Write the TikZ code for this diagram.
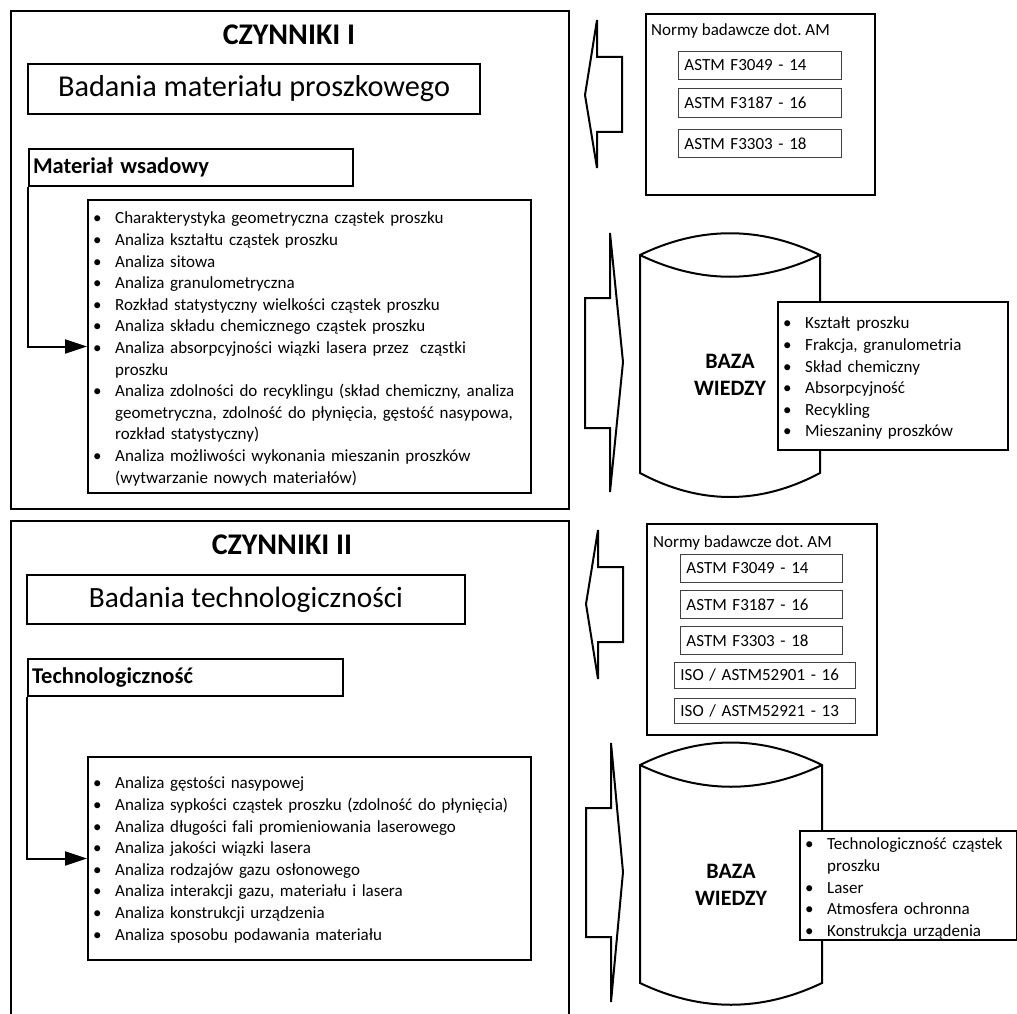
\documentclass[tikz,border=0pt]{standalone}
\usepackage{fontspec}
\setmainfont{Carlito}
\usetikzlibrary{arrows.meta}
\newcommand\bodyfont{\fontsize{17}{21.6}\selectfont\frenchspacing\hyphenpenalty=10000\exhyphenpenalty=10000\relax}
\newcommand\bigfont{\fontsize{30.3}{35}\selectfont}
\newcommand\bigfontb{\fontsize{29.4}{34}\selectfont}
\newcommand\subfont{\fontsize{22.5}{27}\selectfont\bfseries}
\newcommand\ttlfont{\fontsize{30}{36}\selectfont\bfseries}
\newcommand\bazafont{\fontsize{22}{26.5}\selectfont\bfseries}
\newcommand\li[1]{\par\hangindent=22pt\hangafter=1\noindent\strut\makebox[22pt][l]{\textbullet}#1}
\begin{document}
\begin{tikzpicture}[x=1pt,y=-1pt,
  frame/.style={draw, line width=2.2pt, inner sep=0pt, anchor=north west},
  hbox/.style={draw, line width=2pt, inner sep=0pt, anchor=north west},
  sbox/.style={draw=black!75, line width=0.9pt, anchor=north west, inner xsep=6pt, inner ysep=0pt, align=left, font=\bodyfont},
  lst/.style={anchor=north west, inner sep=0pt, align=left, font=\bodyfont},
  ttl/.style={inner sep=0pt, font=\ttlfont},
  baza/.style={inner sep=0pt, align=center, font=\bazafont},
  blk/.style={draw, line width=2pt, line join=miter, fill=white},
  cyl/.style={draw, line width=2pt, fill=white},
  conn/.style={draw, line width=2pt, -{Triangle[length=22pt,width=14pt]}}
]
\useasboundingbox (0,0) rectangle (1017,1014);
\clip (0,0) rectangle (1017,1014);

% ================= TOP =================
\node[frame, minimum width=558pt, minimum height=498pt] (top) at (10,10) {};
\node[ttl] (t1) at (289,35) {CZYNNIKI I};
\node[hbox, minimum width=452pt, minimum height=50pt, font=\bigfont] (bad1) at (27,63) {Badania materiału proszkowego};
\node[hbox, text width=316pt, inner xsep=4pt, minimum height=37pt, align=left, font=\subfont] (mat1) at (28,148) {Materiał wsadowy};
\node[hbox, minimum width=443pt, minimum height=293pt] (list1) at (87,199) {};
\node[lst, text width=480pt] (list1t) at (93,202) {%
\li{Charakterystyka geometryczna cząstek proszku}
\li{Analiza kształtu cząstek proszku}
\li{Analiza sitowa}
\li{Analiza granulometryczna}
\li{Rozkład statystyczny wielkości cząstek proszku}
\li{Analiza składu chemicznego cząstek proszku}
\li{Analiza absorpcyjności wiązki lasera przez\ \ cząstki\newline proszku}
\li{Analiza zdolności do recyklingu (skład chemiczny, analiza\newline geometryczna, zdolność do płynięcia, gęstość nasypowa,\newline rozkład statystyczny)}
\li{Analiza możliwości wykonania mieszanin proszków\newline (wytwarzanie nowych materiałów)}\par};
\draw[conn] (mat1.south west) |- (list1.west);

% norms top
\draw[blk] (585,95) -- (597,20) -- (597,57) -- (622,57) -- (622,132) -- (597,132) -- (597,168) -- cycle;
\node[hbox, minimum width=229pt, minimum height=181pt] (norm1) at (645,13) {};
\node[anchor=base west, inner sep=0pt, font=\bodyfont] (norm1t) at (651,36) {Normy badawcze dot. AM};
\node[sbox, text width=151pt, minimum height=28pt] (a11) at (678,51) {ASTM F3049 - 14};
\node[sbox, text width=151pt, minimum height=29pt] (a12) at (678,88) {ASTM F3187 - 16};
\node[sbox, text width=151pt, minimum height=28pt] (a13) at (678,129) {ASTM F3303 - 18};

% knowledge base top
\draw[blk] (585,298) -- (610,298) -- (610,233) -- (623,362) -- (610,492) -- (610,428) -- (585,428) -- cycle;
\draw[cyl] (640,255) .. controls (700,226) and (760,226) .. (820,255) -- (820,473) .. controls (760,505) and (700,505) .. (640,473) -- cycle;
\draw[cyl] (640,255) .. controls (700,284) and (760,284) .. (820,255);
\node[baza] (bz1) at (730,375) {BAZA\\WIEDZY};
\node[hbox, fill=white, minimum width=230pt, minimum height=148pt] (info1) at (777,301) {};
\node[lst, text width=225pt] (info1t) at (783,307) {%
\li{Kształt proszku}
\li{Frakcja, granulometria}
\li{Skład chemiczny}
\li{Absorpcyjność}
\li{Recykling}
\li{Mieszaniny proszków}\par};

% ================= BOTTOM =================
\node[frame, minimum width=558pt, minimum height=520pt] (bot) at (10,520) {};
\node[ttl] (t2) at (282,545) {CZYNNIKI II};
\node[hbox, minimum width=438pt, minimum height=49pt, font=\bigfontb] (bad2) at (26,574) {Badania technologiczności};
\node[hbox, text width=307pt, inner xsep=4pt, minimum height=37pt, align=left, font=\subfont] (tech) at (27,658) {Technologiczność};
\node[hbox, minimum width=443pt, minimum height=203pt] (list2) at (87,756) {};
\node[lst, text width=480pt] (list2t) at (93,767) {%
\li{Analiza gęstości nasypowej}
\li{Analiza sypkości cząstek proszku (zdolność do płynięcia)}
\li{Analiza długości fali promieniowania laserowego}
\li{Analiza jakości wiązki lasera}
\li{Analiza rodzajów gazu osłonowego}
\li{Analiza interakcji gazu, materiału i lasera}
\li{Analiza konstrukcji urządzenia}
\li{Analiza sposobu podawania materiału}\par};
\draw[conn] (tech.south west) |- (list2.west);

% norms bottom
\draw[blk] (586,604) -- (598,530) -- (598,567) -- (623,567) -- (623,642) -- (598,642) -- (598,679) -- cycle;
\node[hbox, minimum width=230pt, minimum height=211pt] (norm2) at (646,523) {};
\node[anchor=base west, inner sep=0pt, font=\bodyfont] (norm2t) at (653,547) {Normy badawcze dot. AM};
\node[sbox, text width=150pt, minimum height=28pt] (a21) at (680,554) {ASTM F3049 - 14};
\node[sbox, text width=150pt, minimum height=28pt] (a22) at (680,590) {ASTM F3187 - 16};
\node[sbox, text width=150pt, minimum height=28pt] (a23) at (680,626) {ASTM F3303 - 18};
\node[sbox, text width=169pt, minimum height=26pt] (a24) at (674,662) {ISO / ASTM52901 - 16};
\node[sbox, text width=169pt, minimum height=25pt] (a25) at (674,698) {ISO / ASTM52921 - 13};

% knowledge base bottom
\draw[blk] (586,808) -- (611,808) -- (611,743) -- (623,872) -- (611,1002) -- (611,937) -- (586,937) -- cycle;
\draw[cyl] (640,765) .. controls (701,735) and (761,735) .. (822,765) -- (822,983) .. controls (761,1012) and (701,1012) .. (640,983) -- cycle;
\draw[cyl] (640,765) .. controls (701,794) and (761,794) .. (822,765);
\node[baza] (bz2) at (731,885) {BAZA\\WIEDZY};
\node[hbox, fill=white, minimum width=217pt, minimum height=109pt] (info2) at (799,830) {};
\node[lst, text width=230pt] (info2t) at (805,828) {%
\li{Technologiczność cząstek\newline proszku}
\li{Laser}
\li{Atmosfera ochronna}
\li{Konstrukcja urządenia}\par};
\end{tikzpicture}
\end{document}
